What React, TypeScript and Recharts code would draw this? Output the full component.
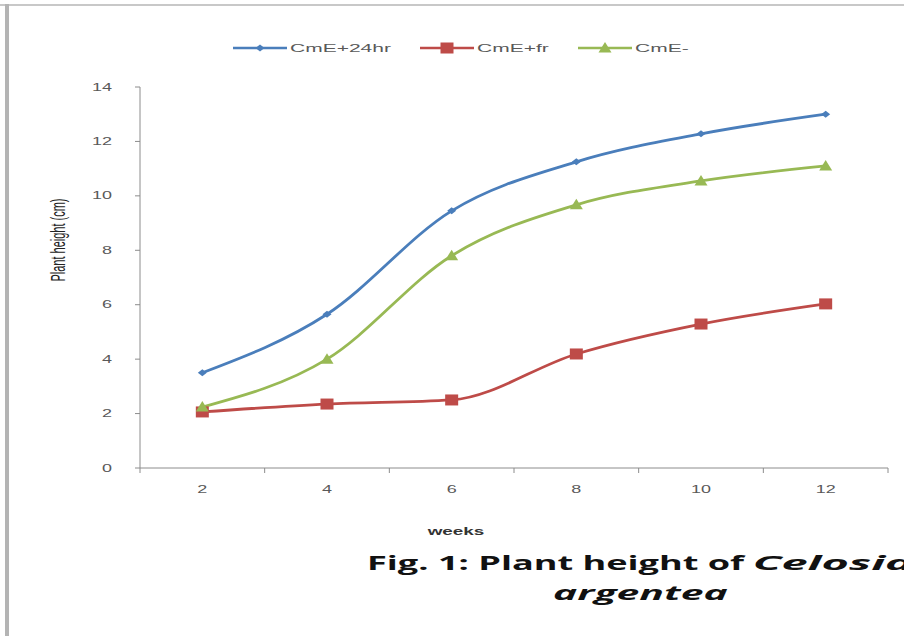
import React from 'react';
import { Legend, Line, LineChart, XAxis, YAxis } from 'recharts';

// weeks after planting
const weeks = ['2', '4', '6', '8', '10', '12'];
const cmE24hr = [3.5, 5.65, 9.45, 11.25, 12.28, 13.0];
const cmEfr = [2.06, 2.35, 2.5, 4.19, 5.29, 6.03];
const cmEminus = [2.24, 4.0, 7.8, 9.67, 10.55, 11.1];
const yTicks = [0, 2, 4, 6, 8, 10, 12, 14];

const data = weeks.map((week, i) => ({
  week,
  cmE24hr: cmE24hr[i],
  cmEfr: cmEfr[i],
  cmEminus: cmEminus[i],
}));

const BLUE = '#4A7EBB';
const RED = '#BE4B48';
const GREEN = '#98B954';
const AXIS = '#8c8c8c';
const TEXT = '#595959';
const FONT = '"Liberation Sans", Arial, sans-serif';
const WIDE = 1.8; // the whole figure is drawn horizontally stretched

const series = [
  { key: 'cmE24hr', name: 'CmE+24hr', color: BLUE, shape: 'diamond', width: 187 },
  { key: 'cmEfr', name: 'CmE+fr', color: RED, shape: 'square', width: 158 },
  { key: 'cmEminus', name: 'CmE-', color: GREEN, shape: 'triangle', width: 120 },
];

const Marker = ({ cx, cy, shape, color }: any) => {
  if (cx == null || cy == null) return null;
  if (shape === 'diamond') {
    const w = 4.5;
    const h = 3.5;
    return (
      <polygon
        points={`${cx},${cy - h} ${cx + w},${cy} ${cx},${cy + h} ${cx - w},${cy}`}
        fill={color}
      />
    );
  }
  if (shape === 'square') {
    return <rect x={cx - 6.5} y={cy - 5.5} width={13} height={11} fill={color} />;
  }
  return (
    <polygon
      points={`${cx},${cy - 6} ${cx + 6.5},${cy + 4.5} ${cx - 6.5},${cy + 4.5}`}
      fill={color}
    />
  );
};

const WideText = ({ x, y, anchor = 'middle', size = 10, children, rotate = 0, fill = TEXT, weight }: any) => (
  <text
    transform={`translate(${x},${y}) scale(${WIDE},1) rotate(${rotate})`}
    textAnchor={anchor}
    fill={fill}
    fontSize={size}
    fontWeight={weight}
    fontFamily={FONT}
  >
    {children}
  </text>
);

// Excel-style ticks: marks sit between the categories
const XTick = (props: any) => {
  const { x, y, payload, index, visibleTicksCount } = props;
  const half = payload.offset ?? 62.3;
  const axisY = y - 21;
  return (
    <g>
      <line x1={x - half} x2={x - half} y1={axisY} y2={axisY + 5} stroke={AXIS} />
      {index === visibleTicksCount - 1 && (
        <line x1={x + half} x2={x + half} y1={axisY} y2={axisY + 5} stroke={AXIS} />
      )}
      <WideText x={x} y={y + 4}>{payload.value}</WideText>
    </g>
  );
};

const YTick = (props: any) => {
  const { x, y, payload } = props;
  return (
    <WideText x={x} y={y + 3.5} anchor="end">
      {payload.value}
    </WideText>
  );
};

const LegendContent = () => (
  <div style={{ display: 'flex', fontSize: 10.5, color: TEXT, fontFamily: FONT }}>
    {series.map((s) => (
      <div key={s.key} style={{ display: 'flex', alignItems: 'center', width: s.width }}>
        <svg width={54} height={14}>
          <line x1={0} x2={54} y1={7} y2={7} stroke={s.color} strokeWidth={2.5} />
          <Marker cx={27} cy={7} shape={s.shape} color={s.color} />
        </svg>
        <span
          style={{
            marginLeft: 3,
            display: 'inline-block',
            transform: 'scaleX(2)',
            transformOrigin: 'left center',
          }}
        >
          {s.name}
        </span>
      </div>
    ))}
  </div>
);

export default function App() {
  return (
    <div
      style={{
        position: 'absolute',
        left: 0,
        top: 0,
        width: 904,
        height: 636,
        background: '#fff',
        fontFamily: FONT,
        overflow: 'hidden',
      }}
    >
      <div style={{ position: 'absolute', left: 0, top: 4, width: 904, height: 2, background: '#c8c8c8' }} />
      <div style={{ position: 'absolute', left: 5, top: 4, width: 4, height: 632, background: '#b4b4b4' }} />

      <LineChart
        width={904}
        height={636}
        data={data}
        margin={{ top: 73, right: 16, left: 90, bottom: 138 }}
        style={{ fontFamily: FONT }}
      >
        <XAxis
          dataKey="week"
          scale="band"
          stroke={AXIS}
          tickLine={false}
          tickSize={5}
          tickMargin={16}
          height={30}
          interval={0}
          tick={<XTick />}
        />
        <YAxis
          domain={[0, 14]}
          ticks={yTicks}
          width={50}
          stroke={AXIS}
          tickSize={5}
          tickMargin={23}
          tick={<YTick />}
        />
        <Legend
          verticalAlign="top"
          content={<LegendContent />}
          wrapperStyle={{ top: 41, left: 233, width: 480 }}
        />
        {series.map((s) => (
          <Line
            key={s.key}
            type="monotone"
            dataKey={s.key}
            name={s.name}
            stroke={s.color}
            strokeWidth={2.8}
            dot={(p: any) => <Marker key={`${s.key}-${p.index}`} cx={p.cx} cy={p.cy} shape={s.shape} color={s.color} />}
            activeDot={false}
            isAnimationActive={false}
          />
        ))}
      </LineChart>

      <svg width={904} height={636} style={{ position: 'absolute', left: 0, top: 0, pointerEvents: 'none' }}>
        <WideText x={65} y={240} rotate={-90} size={11} fill="#222">
          Plant height (cm)
        </WideText>
        <WideText x={456} y={535} size={10.5} fill="#333" weight="bold">
          weeks
        </WideText>
      </svg>

      <div
        style={{
          position: 'absolute',
          left: 367,
          top: 548,
          fontSize: 19,
          fontWeight: 'bold',
          color: '#111',
          fontFamily: '"Open Sans", sans-serif',
          lineHeight: '30px',
          whiteSpace: 'nowrap',
          transform: 'scaleX(1.9)',
          transformOrigin: 'left top',
        }}
      >
        Fig. 1: Plant height of{' '}
        <i style={{ display: 'inline-block', transform: 'scaleX(1.3)', transformOrigin: 'left top' }}>Celosia</i>
      </div>
      <div
        style={{
          position: 'absolute',
          left: 553,
          top: 578,
          fontSize: 19,
          fontWeight: 'bold',
          fontStyle: 'italic',
          color: '#111',
          fontFamily: '"Open Sans", sans-serif',
          lineHeight: '30px',
          whiteSpace: 'nowrap',
          transform: 'scaleX(2.15)',
          transformOrigin: 'left top',
        }}
      >
        argentea
      </div>
    </div>
  );
}
